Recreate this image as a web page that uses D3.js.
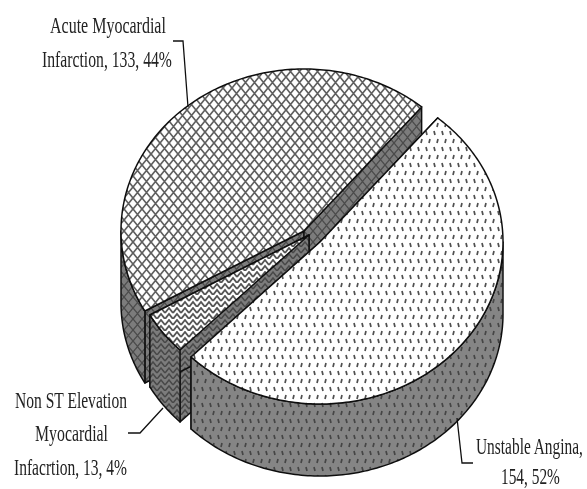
<!DOCTYPE html>
<html>
<head>
<meta charset="utf-8">
<script src="https://cdn.jsdelivr.net/npm/d3@7"></script>
<style>
  html, body { margin: 0; padding: 0; background: #fff; }
  svg { display: block; }
  text { font-family: "Liberation Serif", serif; font-size: 23px; fill: #222; }
</style>
</head>
<body>
<div id="chart"></div>
<script>
const categories = ['Unstable Angina', 'Non ST Elevation Myocardial Infacrtion', 'Acute Myocardial Infarction']
const counts = [154, 13, 133]
const topFills = ['url(#dots)', 'url(#zigzag)', 'url(#lattice)']
const wallFills = ['url(#dotsDark)', 'url(#zigzagDark)', 'url(#latticeDark)']
// draw back to front
const drawOrder = [2, 1, 0]

const width = 587
const height = 489
const radius = { x: 183, y: 162 }
const depth = 72
const rad = d => (d * Math.PI) / 180

// exploded centre of each slice
const centers = [
  { x: 320, y: 242 },
  { x: 309, y: 235 },
  { x: 304, y: 231 },
]

// [text, x start, x end, baseline]
const labels = [
  ['Acute Myocardial', 50, 166, 33],
  ['Infarction, 133, 44%', 42, 172, 67],
  ['Non ST Elevation', 15, 127, 408],
  ['Myocardial', 35, 108, 441],
  ['Infacrtion, 13, 4%', 14, 127, 475],
  ['Unstable Angina,', 476, 583, 454],
  ['154, 52%', 501, 560, 484],
]
const leaders = [
  [[173, 41], [183, 41], [188, 107]],
  [[128, 433], [140, 433], [163, 408]],
  [[457, 418], [462, 463], [473, 463]],
]

const svg = d3
  .select('#chart')
  .append('svg')
  .attr('width', width)
  .attr('height', height)

const defs = svg.append('defs')

defs
  .append('filter')
  .attr('id', 'soft')
  .attr('x', 0)
  .attr('y', 0)
  .attr('width', 1)
  .attr('height', 1)
  .attr('filterUnits', 'objectBoundingBox')
  .append('feGaussianBlur')
  .attr('stdDeviation', 0.55)

function addPattern(id, w, h, bg, ink, strokeWidth, d) {
  const p = defs
    .append('pattern')
    .attr('id', id)
    .attr('patternUnits', 'userSpaceOnUse')
    .attr('width', w)
    .attr('height', h)
  p.append('rect').attr('width', w).attr('height', h).attr('fill', bg)
  p.append('path')
    .attr('d', d)
    .attr('fill', 'none')
    .attr('stroke', ink)
    .attr('stroke-width', strokeWidth)
}

const latticeTile = 'M0,0L4.5,5.5L9,0M0,11L4.5,5.5L9,11'
const dotsTile = 'M2,1L3,5M10,1L11,5M6,9L5,13M14,9L13,13'
const zigzagTile = 'M0,6L4,1L8,6M0,12L4,7L8,12'
addPattern('lattice', 9, 11, '#fff', '#5f5f5f', 1.7, latticeTile)
addPattern('latticeDark', 9, 11, '#7c7c7c', '#4c4c4c', 1.4, latticeTile)
addPattern('dots', 16, 16, '#fff', '#4f4f4f', 1.7, dotsTile)
addPattern('dotsDark', 16, 16, '#858585', '#444', 1.7, dotsTile)
addPattern('zigzag', 8, 12, '#fff', '#555', 1.8, zigzagTile)
addPattern('zigzagDark', 8, 12, '#7c7c7c', '#484848', 1.5, zigzagTile)

const pie = d3
  .pie()
  .sort(null)
  .startAngle(rad(40))
  .endAngle(rad(400))

const arcs = pie(counts)

const x = d3.scaleLinear().domain([-1, 1]).range([-radius.x, radius.x])
const y = d3.scaleLinear().domain([-1, 1]).range([-radius.y, radius.y])
const line = d3.line()

const chart = svg.append('g').attr('filter', 'url(#soft)')
chart.append('rect').attr('width', width).attr('height', height).attr('fill', '#fff')

// point on the tilted circle
const rimPoint = (a, drop) => [x(Math.sin(a)), y(-Math.cos(a)) + drop]
const rimPoints = (a0, a1, drop) => {
  const n = Math.max(2, Math.ceil((a1 - a0) / rad(1)))
  return d3.range(n + 1).map(i => rimPoint(a0 + ((a1 - a0) * i) / n, drop))
}

function drawSlice(i) {
  const arc = arcs[i]
  const g = chart
    .append('g')
    .attr('class', 'slice')
    .attr('transform', `translate(${centers[i].x},${centers[i].y})`)

  const style = sel =>
    sel
      .attr('stroke', '#111')
      .attr('stroke-width', 1.5)
      .attr('stroke-linejoin', 'round')

  // cut faces
  ;[arc.startAngle, arc.endAngle].forEach(a => {
    g.append('path')
      .attr('d', line([[0, 0], rimPoint(a, 0), rimPoint(a, depth), [0, depth]]) + 'Z')
      .attr('fill', wallFills[i])
      .call(style)
  })

  // rim, only the part facing the viewer
  ;[[rad(90), rad(270)], [rad(450), rad(630)]].forEach(([lo, hi]) => {
    const a0 = Math.max(arc.startAngle, lo)
    const a1 = Math.min(arc.endAngle, hi)
    if (a1 <= a0) return
    const band = rimPoints(a0, a1, 0).concat(rimPoints(a0, a1, depth).reverse())
    g.append('path')
      .attr('d', line(band) + 'Z')
      .attr('fill', wallFills[i])
      .call(style)
  })

  // top
  g.append('path')
    .attr('d', line([[0, 0]].concat(rimPoints(arc.startAngle, arc.endAngle, 0))) + 'Z')
    .attr('fill', topFills[i])
    .call(style)
}

drawOrder.forEach(drawSlice)

chart
  .selectAll('.leader')
  .data(leaders)
  .enter()
  .append('path')
  .attr('class', 'leader')
  .attr('d', d => line(d))
  .attr('fill', 'none')
  .attr('stroke', '#111')
  .attr('stroke-width', 1.3)

// the labels are narrow and tall in the picture, so squeeze them to their measured widths
chart
  .selectAll('.label')
  .data(labels)
  .enter()
  .append('text')
  .attr('class', 'label')
  .text(d => d[0])
  .attr('transform', function(d) {
    const sx = (d[2] - d[1]) / this.getComputedTextLength()
    return `translate(${d[1]},${d[3]}) scale(${sx},1)`
  })
</script>
</body>
</html>
